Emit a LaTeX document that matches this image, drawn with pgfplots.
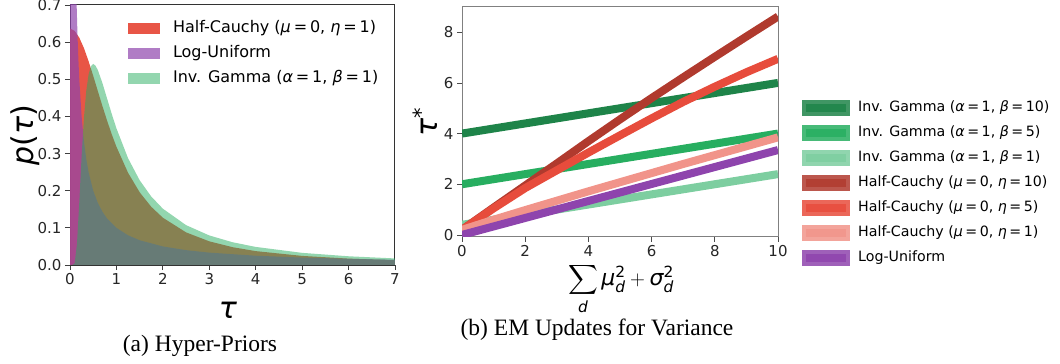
\documentclass[border=0pt]{standalone}
\usepackage{pgfplots}
\pgfplotsset{compat=1.18}
\usepackage{amsmath}
\usepackage{fontspec}
\setmainfont{DejaVu Sans}
\newfontfamily\capfont{Liberation Serif}
\definecolor{hcred}{HTML}{E74C3C}
\definecolor{lupurple}{HTML}{8E44AD}
\definecolor{iggreen}{HTML}{27AE60}
\definecolor{igA}{HTML}{1E8449}
\definecolor{igB}{HTML}{27AE60}
\definecolor{igC}{HTML}{7DCEA0}
\definecolor{hcA}{HTML}{B03A2E}
\definecolor{hcB}{HTML}{E74C3C}
\definecolor{hcC}{HTML}{F1948A}
\definecolor{luC}{HTML}{8E44AD}
\newcommand{\ii}[1]{{\itshape #1}}
\newcommand{\eq}{\kern0.18em=\kern0.18em}
\begin{document}
\begin{tikzpicture}
\path[use as bounding box] (0bp,0bp) rectangle (1060bp,364bp);
% ---------------- left panel ----------------
\begin{axis}[
  at={(70bp,99bp)}, anchor=south west,
  width=325bp, height=260bp, scale only axis,
  xmin=0, xmax=7, ymin=0, ymax=0.7,
  xtick={0,1,...,7}, ytick={0,0.1,...,0.7},
  /pgf/number format/assume math mode=true,
  yticklabel style={/pgf/number format/fixed, /pgf/number format/fixed zerofill, /pgf/number format/precision=1},
  ticklabel style={font=\fontsize{15bp}{18bp}\selectfont, text=black!85},
  tick align=outside, tick pos=left, major tick length=5bp,
  every tick/.style={black!75, line width=0.8bp},
  axis line style={black!80, line width=1bp},
  xlabel={\ii{τ}},
  xlabel style={at={(axis description cs:0.486,-0.175)}, anchor=center, font=\fontsize{30bp}{36bp}\selectfont},
  ylabel={\ii{p}(\ii{τ})},
  ylabel style={at={(axis description cs:-0.138,0.5)}, anchor=center, font=\fontsize{30bp}{36bp}\selectfont},
  legend image code/.code={\fill (0bp,-5.5bp) rectangle (32bp,5.5bp);},
  legend style={at={(0.178,0.942)}, anchor=north west, draw=none, fill=none, inner sep=0pt,
    font=\fontsize{16bp}{19bp}\selectfont, column sep=13bp, row sep=9bp,
    nodes={inner sep=0pt, text height=12bp, text depth=4bp}},
  legend cell align=left,
]
\addplot[fill=hcred, draw=none, fill opacity=0.95] coordinates {
(0,0.6366)(0.1,0.6303)(0.2,0.6121)(0.3,0.5840)(0.4,0.5488)(0.5,0.5093)(0.6,0.4681)(0.7,0.4272)
(0.8,0.3882)(0.9,0.3517)(1.0,0.3183)(1.25,0.2484)(1.5,0.1959)(1.75,0.1567)(2,0.1273)(2.5,0.0878)
(3,0.0637)(3.5,0.0480)(4,0.0374)(5,0.0245)(6,0.0172)(7,0.0127)} \closedcycle;
\addlegendentry{Half-Cauchy (\ii{μ}\eq0, \ii{η}\eq1)}
\addplot[fill=lupurple, draw=none, fill opacity=0.7] coordinates {
(0,1.2)(0.1,1.0)(0.12,0.833)(0.14,0.714)(0.16,0.625)(0.18,0.556)(0.2,0.5)(0.25,0.4)(0.3,0.333)
(0.35,0.286)(0.4,0.25)(0.5,0.2)(0.6,0.167)(0.7,0.143)(0.8,0.125)(1,0.1)(1.25,0.08)(1.5,0.0667)
(2,0.05)(2.5,0.04)(3,0.0333)(4,0.025)(5,0.02)(6,0.0167)(7,0.0143)} \closedcycle;
\addlegendentry{Log-Uniform}
\addplot[fill=iggreen, draw=none, fill opacity=0.5] coordinates {
(0,0)(0.05,0)(0.1,0.0045)(0.15,0.0565)(0.2,0.1684)(0.25,0.2930)(0.3,0.3963)(0.35,0.4688)
(0.4,0.5130)(0.45,0.5353)(0.5,0.5413)(0.55,0.5366)(0.6,0.5247)(0.7,0.4892)(0.8,0.4476)
(0.9,0.4064)(1.0,0.3679)(1.25,0.2876)(1.5,0.2282)(1.75,0.1844)(2,0.1516)(2.5,0.1073)
(3,0.0796)(3.5,0.0613)(4,0.0487)(5,0.0327)(6,0.0235)(7,0.0177)} \closedcycle;
\addlegendentry{Inv. Gamma (\ii{α}\eq1, \ii{β}\eq1)}
\end{axis}
% ---------------- right panel ----------------
\begin{axis}[
  at={(462bp,127.3bp)}, anchor=south west,
  width=316bp, height=229.8bp, scale only axis,
  xmin=0, xmax=10, ymin=-0.07, ymax=9,
  xtick={0,2,...,10}, ytick={0,2,...,8},
  /pgf/number format/assume math mode=true,
  ticklabel style={font=\fontsize{15bp}{18bp}\selectfont, text=black!85},
  tick align=outside, tick pos=left, major tick length=5bp,
  every tick/.style={black!70, line width=0.8bp},
  axis line style={black!50, line width=1bp},
  xlabel={$\displaystyle\sum_{\text{\itshape d}}\text{\itshape μ}_{\text{\itshape d}}^{\text{2}}+\text{\itshape σ}_{\text{\itshape d}}^{\text{2}}$},
  xlabel style={at={(axis description cs:0.503,-0.228)}, anchor=center, inner sep=0pt, font=\fontsize{22bp}{26bp}\selectfont},
  ylabel={\ii{τ}\textsuperscript{*}},
  ylabel style={at={(axis description cs:-0.117,0.5)}, anchor=center, font=\fontsize{30bp}{36bp}\selectfont},
  every axis plot/.append style={line width=8bp},
  legend image code/.code={\fill[opacity=0.85] (0bp,-4bp) rectangle (40bp,4bp);},
  legend style={at={(1.076,0.597)}, anchor=north west, draw=none, fill=none, inner sep=0pt,
    font=\fontsize{14.2bp}{17bp}\selectfont, column sep=8bp, row sep=9bp,
    nodes={inner sep=0pt, text height=11bp, text depth=4bp}},
  legend cell align=left,
]
\addplot[color=igA] coordinates {(0,4)(10,6)};
\addlegendentry{Inv. Gamma (\ii{α}\eq1, \ii{β}\eq10)}
\addplot[color=igB] coordinates {(0,2)(10,4)};
\addlegendentry{Inv. Gamma (\ii{α}\eq1, \ii{β}\eq5)}
\addplot[color=igC] coordinates {(0,0.4)(10,2.4)};
\addlegendentry{Inv. Gamma (\ii{α}\eq1, \ii{β}\eq1)}
\addplot[color=hcA] coordinates {(0,0.2)(1,1.08)(2,1.95)(3,2.82)(4,3.7)(5,4.56)(6,5.4)(7,6.22)(8,7.03)(9,7.83)(10,8.62)};
\addlegendentry{Half-Cauchy (\ii{μ}\eq0, \ii{η}\eq10)}
\addplot[color=hcB] coordinates {(0,0.2)(1,1.05)(2,1.85)(3,2.55)(4,3.25)(5,3.93)(6,4.6)(7,5.25)(8,5.85)(9,6.42)(10,6.95)};
\addlegendentry{Half-Cauchy (\ii{μ}\eq0, \ii{η}\eq5)}
\addplot[color=hcC] coordinates {(0,0.2)(1,0.6)(2,0.98)(3,1.35)(4,1.72)(5,2.08)(6,2.44)(7,2.8)(8,3.15)(9,3.5)(10,3.85)};
\addlegendentry{Half-Cauchy (\ii{μ}\eq0, \ii{η}\eq1)}
\addplot[color=luC] coordinates {(0,0)(10,3.35)};
\addlegendentry{Log-Uniform}
\end{axis}
\node[anchor=base, font=\capfont\fontsize{23.5bp}{28bp}\selectfont] at (200bp,13bp) {(a) Hyper-Priors};
\node[anchor=base, font=\capfont\fontsize{23.5bp}{28bp}\selectfont] at (597bp,29bp) {(b) EM Updates for Variance};
\end{tikzpicture}
\end{document}
